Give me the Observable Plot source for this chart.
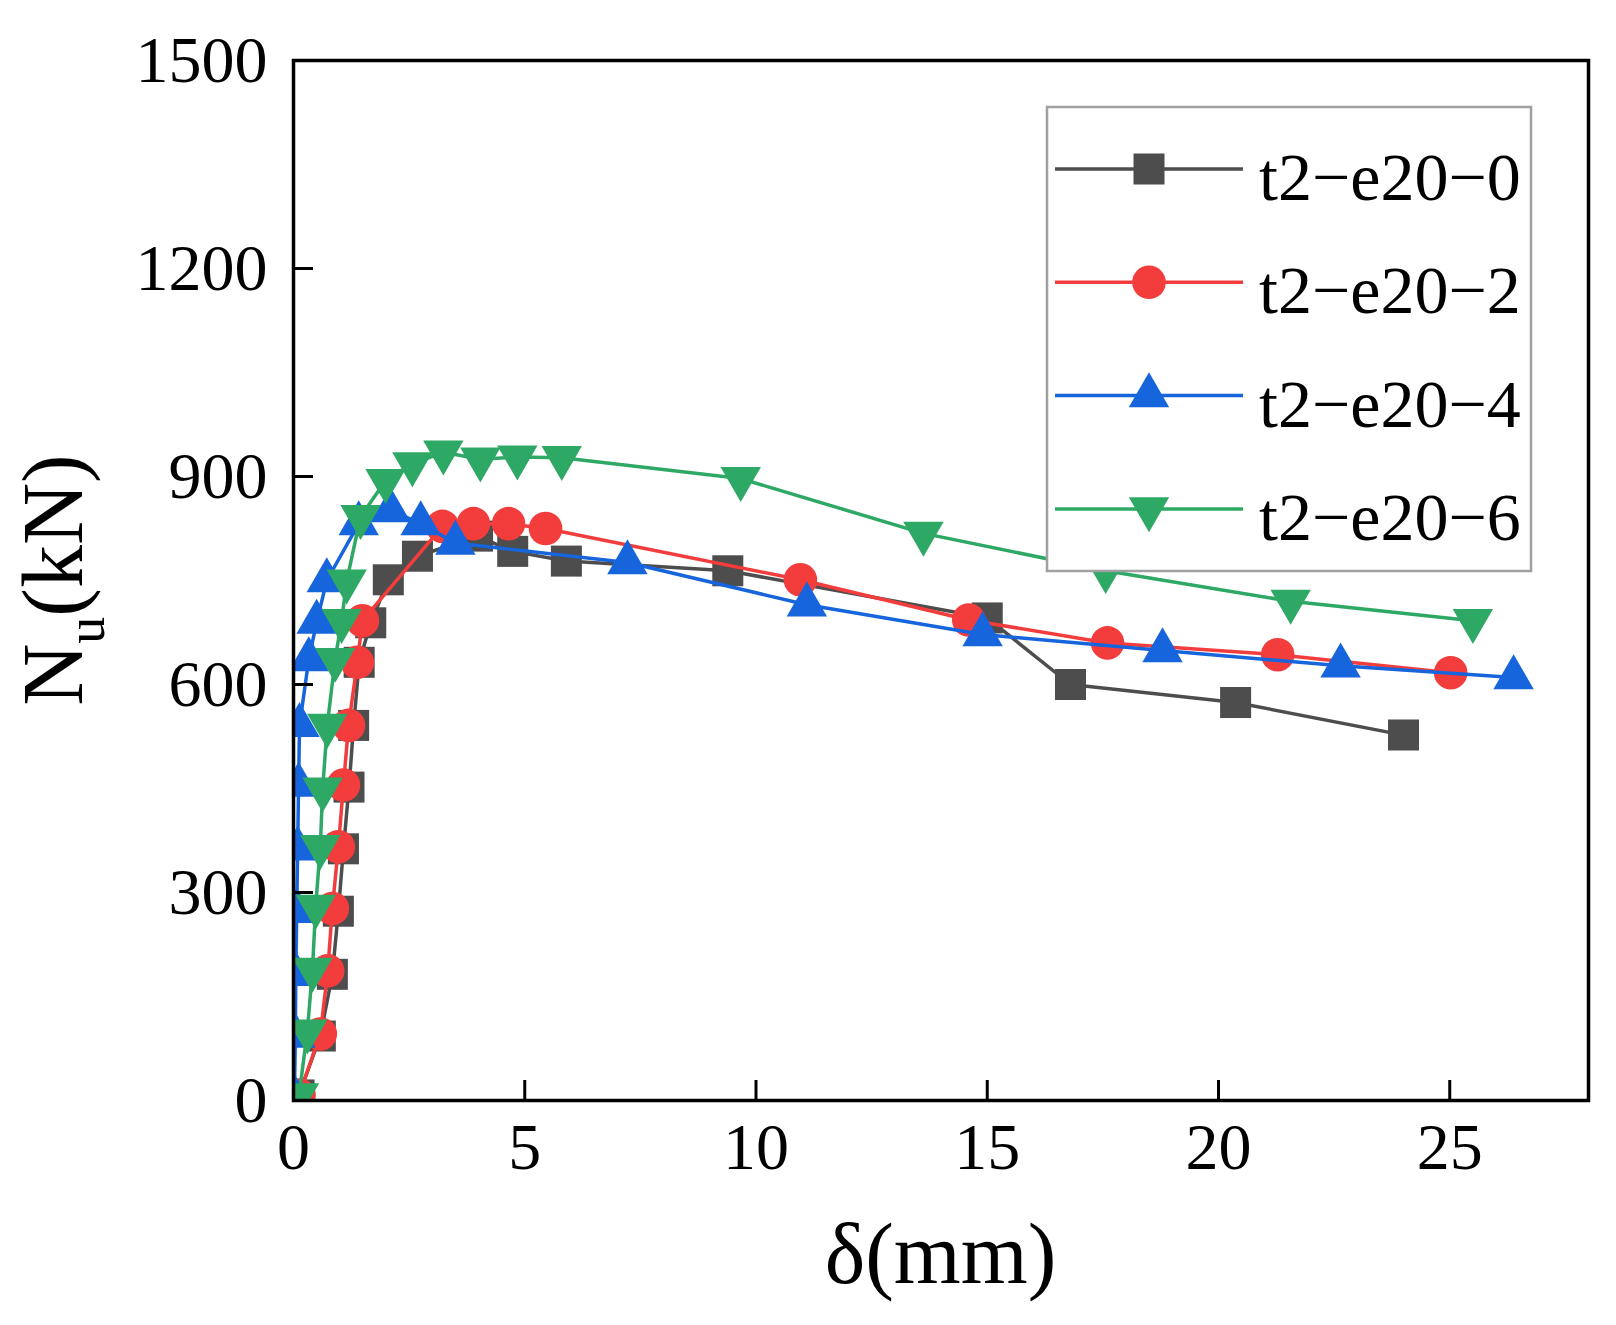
<!DOCTYPE html>
<html>
<head>
<meta charset="utf-8">
<script src="https://cdn.jsdelivr.net/npm/d3@7"></script>
<script src="https://cdn.jsdelivr.net/npm/@observablehq/plot@0.6"></script>
<style>
  body { margin: 0; background: #fff; }
</style>
</head>
<body>
<div id="chart"></div>
<script>
// series names and looks
const seriesNames = ["t2−e20−0", "t2−e20−2", "t2−e20−4", "t2−e20−6"];
const seriesColors = ["#4d4d4d", "#f33d3d", "#1665dc", "#2ea865"];

// δ (mm), Nu (kN)
const e0 = [[0.12,8],[0.58,93],[0.84,182],[0.97,273],[1.08,363],[1.2,452],[1.3,541],[1.42,632],[1.67,689],[2.05,751],[2.68,785],[3.98,814],[4.74,792],[5.9,778],[9.39,764],[15.0,696],[16.8,600],[20.37,574],[24.0,527]];
const e2 = [[0.12,8],[0.58,96],[0.74,187],[0.84,277],[0.97,366],[1.08,455],[1.19,541],[1.38,632],[1.49,692],[3.22,828],[3.89,832],[4.65,832],[5.45,825],[10.96,751],[14.6,693],[17.6,660],[21.28,643],[25.02,617]];
const e4 = [[0.02,5],[0.04,93],[0.05,182],[0.07,273],[0.09,363],[0.11,455],[0.13,541],[0.33,636],[0.5,690],[0.72,750],[1.41,832],[2.1,851],[2.75,832],[3.5,804],[7.22,776],[11.1,715],[14.9,672],[18.79,649],[22.64,627],[26.38,610]];
const e6 = [[0.12,8],[0.3,100],[0.41,189],[0.48,280],[0.58,366],[0.63,449],[0.73,541],[0.9,636],[1.04,692],[1.15,749],[1.45,842],[1.99,894],[2.57,918],[3.24,935],[4.04,925],[4.84,928],[5.8,927],[9.67,897],[13.62,818],[17.56,764],[21.56,720],[25.5,692]];

const xTicks = [0, 5, 10, 15, 20, 25];
const yTicks = [0, 300, 600, 900, 1200, 1500];

// down-pointing triangle, same geometry as d3.symbolTriangle flipped
const triangleDown = {
  draw(ctx, size) {
    const y = -Math.sqrt(size / (3 * Math.sqrt(3)));
    ctx.moveTo(0, -2 * y);
    ctx.lineTo(Math.sqrt(3) * y, y);
    ctx.lineTo(-Math.sqrt(3) * y, y);
    ctx.closePath();
  }
};
const symbols = [d3.symbolSquare, d3.symbolCircle, d3.symbolTriangle, triangleDown];
const radii = [17.5, 16.8, 15, 15];

const allSeries = [e0, e2, e4, e6].map((pts, i) =>
  pts.map(([x, y]) => ({ name: seriesNames[i], x, y })));

const W = 1616, H = 1325;
const mL = 293, mR = 28, mT = 60, mB = 225;
const frameH = H - mT - mB, frameW = W - mL - mR;

const seriesMarks = allSeries.flatMap((rows, i) => [
  Plot.line(rows, { x: "x", y: "y", stroke: seriesColors[i], strokeWidth: 3.5, clip: true }),
  Plot.dot(rows, { x: "x", y: "y", symbol: symbols[i], r: radii[i], fill: seriesColors[i], stroke: "none", clip: true })
]);

const chart = Plot.plot({
  width: W,
  height: H,
  marginLeft: mL,
  marginRight: mR,
  marginTop: mT,
  marginBottom: mB,
  style: { fontFamily: "Liberation Serif", fontSize: "66px", color: "#000", background: "#fff" },
  x: { domain: [0, 28] },
  y: { domain: [0, 1500] },
  marks: [
    ...seriesMarks,
    // inward ticks
    Plot.ruleX(xTicks.filter(d => d > 0), { x: d => d, insetTop: frameH - 20, stroke: "#000", strokeWidth: 3 }),
    Plot.ruleY(yTicks.filter(d => d > 0 && d < 1500), { y: d => d, insetRight: frameW - 20, stroke: "#000", strokeWidth: 3 }),
    Plot.axisX(xTicks, { tickSize: 0, tickPadding: 22, label: null, tickFormat: d3.format("d"), fontSize: 66 }),
    Plot.axisY(yTicks, { tickSize: 0, tickPadding: 26, label: null, tickFormat: d3.format("d"), fontSize: 66 }),
    Plot.frame({ stroke: "#000", strokeWidth: 3.5 })
  ]
});

const svg = d3.select(chart);

// axis titles
svg.append("text")
  .attr("x", mL + frameW / 2)
  .attr("y", 1283)
  .attr("text-anchor", "middle")
  .attr("font-family", "Liberation Serif")
  .attr("font-size", 86)
  .attr("fill", "#000")
  .text("δ(mm)");

const yTitle = svg.append("text")
  .attr("transform", `translate(82,${mT + frameH / 2}) rotate(-90)`)
  .attr("text-anchor", "middle")
  .attr("font-family", "Liberation Serif")
  .attr("font-size", 86)
  .attr("fill", "#000");
yTitle.append("tspan").text("N");
yTitle.append("tspan").attr("font-size", 54).attr("dy", 22).text("u");
yTitle.append("tspan").attr("dy", -22).text("(kN)");

// legend box
const lg = svg.append("g");
lg.append("rect")
  .attr("x", 1047).attr("y", 107)
  .attr("width", 484).attr("height", 464)
  .attr("fill", "#fff")
  .attr("stroke", "#a0a0a0")
  .attr("stroke-width", 2.5);

seriesNames.forEach((name, i) => {
  const cy = 169 + i * 113.3;
  lg.append("line")
    .attr("x1", 1055).attr("x2", 1243)
    .attr("y1", cy).attr("y2", cy)
    .attr("stroke", seriesColors[i])
    .attr("stroke-width", 3.5);
  lg.append("path")
    .attr("transform", `translate(1149,${cy})`)
    .attr("d", d3.symbol().type(symbols[i]).size(Math.PI * radii[i] * radii[i])())
    .attr("fill", seriesColors[i]);
  lg.append("text")
    .attr("x", 1259)
    .attr("y", cy + 31)
    .attr("text-anchor", "start")
    .attr("font-family", "Liberation Serif")
    .attr("font-size", 68)
    .attr("fill", "#000")
    .text(name);
});

document.getElementById("chart").append(chart);
</script>
</body>
</html>
